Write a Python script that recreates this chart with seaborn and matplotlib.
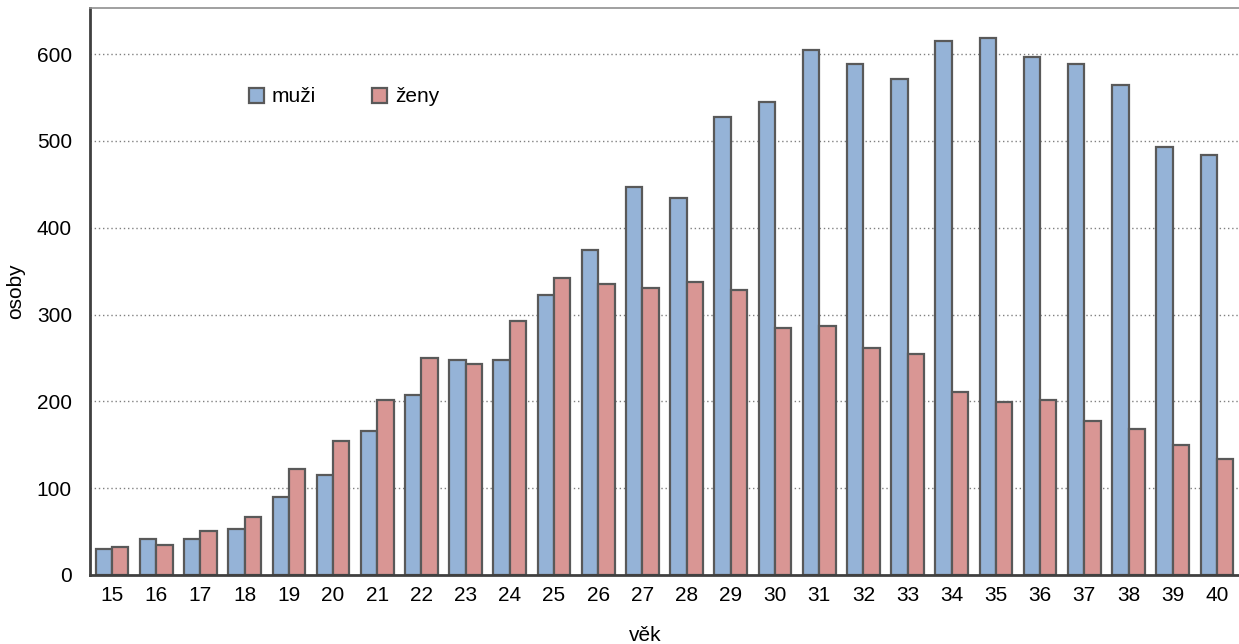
import numpy as np
import pandas as pd
import matplotlib
matplotlib.use("Agg")
import matplotlib.pyplot as plt
import seaborn as sns

ages = [str(a) for a in range(15, 41)]
muzi = [30, 41, 41, 53, 90, 115, 166, 207, 248, 248, 323, 374, 447, 434, 527, 545,
        605, 589, 571, 615, 619, 597, 589, 564, 493, 484]
zeny = [32, 35, 51, 67, 122, 154, 202, 250, 243, 292, 342, 335, 330, 337, 328, 284,
        287, 261, 255, 211, 199, 201, 177, 168, 150, 134]
series_names = ["muži", "ženy"]
colors = ["#95B3D7", "#D99694"]
y_ticks = [0, 100, 200, 300, 400, 500, 600]

df = pd.DataFrame({
    "věk": ages * 2,
    "osoby": muzi + zeny,
    "pohlaví": [series_names[0]] * len(ages) + [series_names[1]] * len(ages),
})

sns.set_style("white")
plt.rcParams["font.family"] = ["Liberation Sans", "DejaVu Sans"]
plt.rcParams["text.color"] = "black"
plt.rcParams["axes.labelcolor"] = "black"
plt.rcParams["xtick.labelcolor"] = "black"
plt.rcParams["ytick.labelcolor"] = "black"
FS = 15

W, H = 1239, 644
fig = plt.figure(figsize=(W / 100, H / 100), dpi=100)
left, right, top, bottom = 90, 1239, 8, 575
ax = fig.add_axes([left / W, 1 - bottom / H, (right - left) / W, (bottom - top) / H])

sns.barplot(data=df, x="věk", y="osoby", hue="pohlaví", order=ages,
            hue_order=series_names, palette=colors, saturation=1,
            edgecolor="#595959", linewidth=1.6, width=0.74, ax=ax)

ax.set_ylim(0, 653)
ax.set_xlim(-0.5, 25.27)
ax.set_yticks(y_ticks)
ax.set_yticklabels([str(v) for v in y_ticks], fontsize=FS, color="black")
ax.set_xticks(range(len(ages)))
ax.set_xticklabels(ages, fontsize=FS, color="black")
ax.set_xticks(np.arange(-0.5, len(ages), 1), minor=True)
ax.tick_params(axis="x", which="major", length=0, pad=8)
ax.tick_params(axis="x", which="minor", length=5, width=1.5, color="#404040", direction="out")
ax.tick_params(axis="y", which="major", length=5, width=1.5, color="#404040", direction="out", pad=8)

for v in y_ticks[1:]:
    ax.axhline(v, color="#808080", linestyle=(0, (1, 2)), linewidth=1.0, zorder=0)
ax.set_axisbelow(True)

for s in ["left", "bottom"]:
    ax.spines[s].set_color("#404040")
    ax.spines[s].set_linewidth(2)
ax.spines["top"].set_color("#909090")
ax.spines["top"].set_linewidth(1.2)
ax.spines["right"].set_visible(False)

ax.set_xlabel("věk", fontsize=FS, color="black")
ax.set_ylabel("osoby", fontsize=FS, color="black")
ax.xaxis.set_label_coords((645 - left) / (right - left), (bottom - 626) / (bottom - top))
ax.yaxis.set_label_coords((25 - left) / (right - left), 0.5)

leg = ax.get_legend()
if leg is not None:
    leg.remove()
handles, labels = ax.get_legend_handles_labels()
fig.legend(handles, labels, loc="center left", bbox_to_anchor=(249 / W, 1 - 97 / H),
           ncol=2, frameon=False, fontsize=FS, handlelength=0.7, handleheight=0.7,
           handletextpad=0.4, columnspacing=2.7, borderpad=0, borderaxespad=0,
           labelcolor="black")

fig.savefig("out.png", dpi=100)
